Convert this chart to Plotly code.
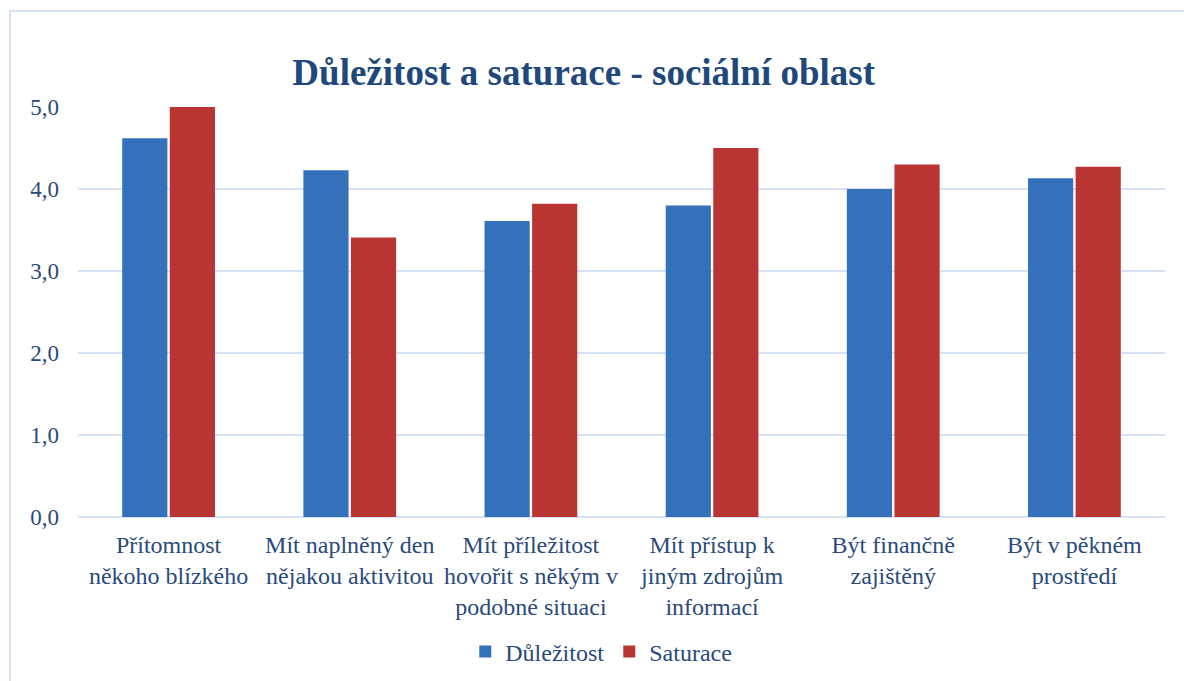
import plotly.graph_objects as go

categories = [
    "Přítomnost<br>někoho blízkého",
    "Mít naplněný den<br>nějakou aktivitou",
    "Mít příležitost<br>hovořit s někým v<br>podobné situaci",
    "Mít přístup k<br>jiným zdrojům<br>informací",
    "Být finančně<br>zajištěný",
    "Být v pěkném<br>prostředí",
]
dulezitost = [4.62, 4.23, 3.61, 3.80, 4.00, 4.13]
saturace = [5.00, 3.41, 3.82, 4.50, 4.30, 4.27]

text_color = "#2a4a7c"
font_family = "Liberation Serif, Times New Roman, serif"

fig = go.Figure()
fig.add_trace(go.Bar(name="Důležitost", x=categories, y=dulezitost,
                     marker=dict(color="#3570bb", line=dict(width=0))))
fig.add_trace(go.Bar(name="Saturace", x=categories, y=saturace,
                     marker=dict(color="#b93533", line=dict(width=0))))

fig.update_layout(
    width=1184, height=681,
    barmode="group", bargap=0.475, bargroupgap=0.05,
    separators=",.",
    paper_bgcolor="white", plot_bgcolor="white",
    margin=dict(l=78, r=19, t=107, b=164),
    font=dict(family=font_family, size=24, color=text_color),
    title=dict(text="<b>Důležitost a saturace - sociální oblast</b>",
               font=dict(family=font_family, size=37, color="#1f497d"),
               x=0.493, xref="container", xanchor="center",
               y=1 - 72 / 681, yref="container", yanchor="middle"),
    legend=dict(orientation="h", x=0.4814, xanchor="center",
                yref="container", y=1 - 652 / 681, yanchor="middle",
                font=dict(size=24, color=text_color), itemwidth=30,
                traceorder="normal"),
    xaxis=dict(showgrid=False, showline=False, ticks="", automargin=False,
               ticklabelstandoff=11,
               tickfont=dict(size=24, color=text_color)),
    yaxis=dict(range=[0, 5], dtick=1, tickformat=".1f", automargin=False,
               showgrid=True, gridcolor="#d6e2f3", gridwidth=2,
               zeroline=True, zerolinecolor="#d6e2f3", zerolinewidth=2,
               showline=False, ticks="", ticklabelstandoff=18,
               tickfont=dict(size=23, color=text_color)),
    shapes=[dict(type="rect", xref="paper", yref="paper",
                 x0=(10 - 78) / 1087, x1=1.1, y0=-0.6, y1=(517 - 11) / 410,
                 line=dict(color="#d6e2f3", width=2), fillcolor="rgba(0,0,0,0)",
                 layer="below")],
)

fig.write_html("out.html", config={"displayModeBar": False},
               post_script="document.body.style.margin='0';")
